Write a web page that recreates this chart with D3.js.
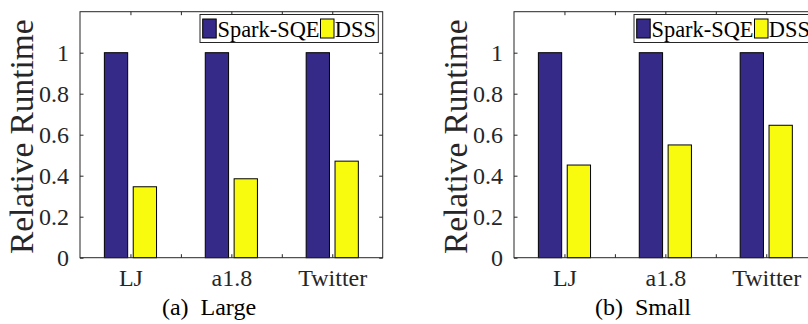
<!DOCTYPE html>
<html><head><meta charset="utf-8">
<script src="https://cdn.jsdelivr.net/npm/d3@7"></script>
<style>body{margin:0;background:#fff}svg{display:block}</style>
</head><body>
<svg id="chart" width="808" height="324"></svg>
<script>
const categories = ["LJ", "a1.8", "Twitter"];
const seriesNames = ["Spark-SQE", "DSS"];
const largeSpark = [1, 1, 1];
const largeDSS = [0.346, 0.385, 0.471];
const smallSpark = [1, 1, 1];
const smallDSS = [0.452, 0.550, 0.646];
const yTicks = [0, 0.2, 0.4, 0.6, 0.8, 1];
const xMinorTicks = [1, 1.5, 2, 2.5, 3];
const panels = [
  {caption: "(a) Large", spark: largeSpark, dss: largeDSS, dx: 0},
  {caption: "(b) Small", spark: smallSpark, dss: smallDSS, dx: 434}
];
const colors = ["#352a87", "#f9fb0e"];
const axisColor = "#262626";
const font = "Liberation Serif";

const svg = d3.select("#chart");
const L = 80, R = 382.7, T = 11.7, B = 257.7;

panels.forEach(p => {
  const g = svg.append("g").attr("transform", `translate(${p.dx},0)`);
  const x = d3.scaleLinear().domain([0.5, 3.5]).range([L, R]);
  const y = d3.scaleLinear().domain([0, 1.2]).range([B, T]);
  const bw = x(0.231) - x(0);
  const off = 0.143;

  [p.spark, p.dss].forEach((vals, s) => {
    g.selectAll(null).data(vals).enter().append("rect")
      .attr("x", (d, i) => x(i + 1 + (s === 0 ? -off : off)) - bw / 2)
      .attr("y", d => y(d))
      .attr("width", bw)
      .attr("height", d => y(0) - y(d))
      .attr("fill", colors[s])
      .attr("stroke", "#000")
      .attr("stroke-width", 1);
  });

  g.append("rect").attr("x", L).attr("y", T).attr("width", R - L).attr("height", B - T)
    .attr("fill", "none").attr("stroke", axisColor).attr("stroke-width", 1);

  const yLeft = d3.axisLeft(y).tickValues(yTicks).tickSizeInner(-3.5).tickSizeOuter(0).tickPadding(11)
    .tickFormat(d => d === 0 ? "0" : d === 1 ? "1" : d3.format(".1f")(d));
  const ya = g.append("g").attr("transform", `translate(${L},0)`).call(yLeft);
  const yr = g.append("g").attr("transform", `translate(${R},0)`)
    .call(d3.axisRight(y).tickValues(yTicks).tickSizeInner(-3.5).tickSizeOuter(0).tickFormat(""));
  const xb = g.append("g").attr("transform", `translate(0,${B})`)
    .call(d3.axisBottom(x).tickValues(xMinorTicks).tickSizeInner(-3.5).tickSizeOuter(0).tickFormat(""));
  const xt = g.append("g").attr("transform", `translate(0,${T})`)
    .call(d3.axisTop(x).tickValues(xMinorTicks).tickSizeInner(-3.5).tickSizeOuter(0).tickFormat(""));
  [ya, yr, xb, xt].forEach(a => {
    a.select(".domain").remove();
    a.selectAll("line").attr("stroke", axisColor);
  });
  ya.selectAll("text").style("font-family", font).style("font-size", "24px").attr("fill", axisColor);

  const xl = d3.axisBottom(x).tickValues([1, 2, 3]).tickSize(0).tickPadding(11)
    .tickFormat((d) => categories[d - 1]);
  const xla = g.append("g").attr("transform", `translate(0,${B})`).call(xl);
  xla.select(".domain").remove();
  xla.selectAll("text").style("font-family", font).style("font-size", "24px").attr("fill", axisColor);

  g.append("text").attr("transform", `translate(33,${(T + B) / 2 + 2}) rotate(-90)`)
    .attr("text-anchor", "middle").style("font-family", font).style("font-size", "33.4px")
    .attr("fill", axisColor).text("Relative Runtime");

  const lg = g.append("g");
  lg.append("rect").attr("x", 200).attr("y", 14.5).attr("width", 178.3).attr("height", 28)
    .attr("fill", "#fff").attr("stroke", axisColor).attr("stroke-width", 1);
  const items = [{x: 202.7, tx: 217.5}, {x: 320.5, tx: 334.8}];
  seriesNames.forEach((n, i) => {
    lg.append("rect").attr("x", items[i].x).attr("y", 19).attr("width", 13.5).attr("height", 19)
      .attr("fill", colors[i]).attr("stroke", "#000").attr("stroke-width", 1);
    lg.append("text").attr("x", items[i].tx).attr("y", 36.5).style("font-family", font)
      .style("font-size", "22.4px").attr("fill", "#000").text(n);
  });

  g.append("text").attr("x", 209).attr("y", 315).attr("text-anchor", "middle")
    .style("font-family", font).style("font-size", "24px").attr("fill", "#000")
    .style("white-space", "pre").text(p.caption.replace(" ", "\u2002"));
});
</script>
</body></html>
